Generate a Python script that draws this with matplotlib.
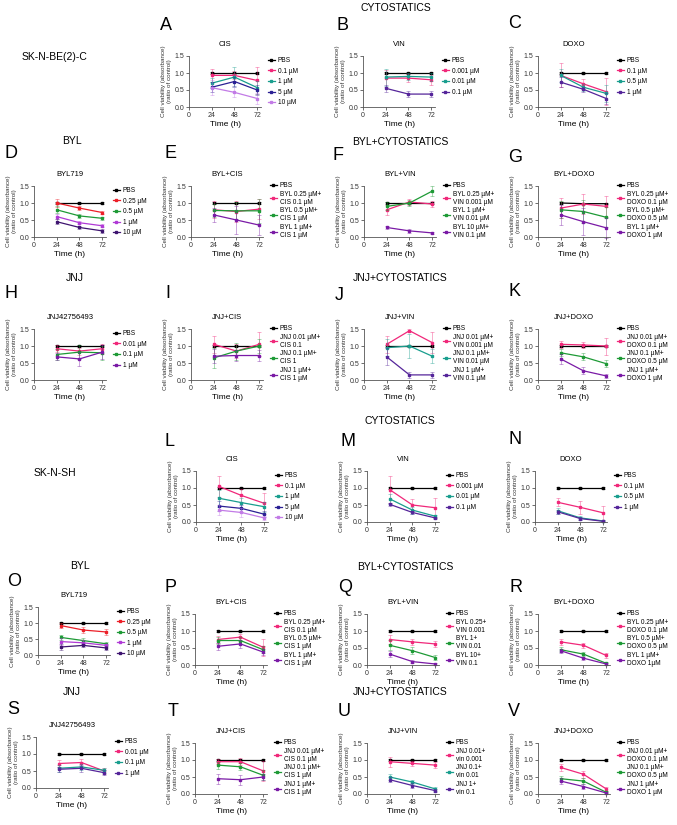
import matplotlib
matplotlib.use("Agg")
import matplotlib.pyplot as plt

plt.rcParams['font.family'] = ['Liberation Sans', 'DejaVu Sans']

time_h = [24, 48, 72]
ylabel = "Cell viability (absorbance)\n(ratio of control)"

# ---------- SK-N-BE(2)-C ----------
A_labels = ["PBS", "0.1 µM", "1 µM", "5 µM", "10 µM"]
A_vals = [[1, 1, 1], [0.93, 0.93, 0.78], [0.70, 0.88, 0.57], [0.58, 0.75, 0.50], [0.57, 0.43, 0.25]]
A_err = [[0.02, 0.02, 0.02], [0.18, 0.12, 0.40], [0.15, 0.30, 0.20], [0.15, 0.12, 0.15], [0.22, 0.15, 0.15]]

B_labels = ["PBS", "0.001 µM", "0.01 µM", "0.1 µM"]
B_vals = [[1, 1, 1], [0.85, 0.85, 0.80], [0.88, 0.90, 0.88], [0.55, 0.38, 0.38]]
B_err = [[0.02, 0.02, 0.02], [0.25, 0.12, 0.15], [0.25, 0.10, 0.12], [0.10, 0.10, 0.10]]

C_labels = ["PBS", "0.1 µM", "0.5 µM", "1 µM"]
C_vals = [[1, 1, 1], [0.93, 0.68, 0.45], [0.93, 0.58, 0.40], [0.73, 0.52, 0.25]]
C_err = [[0.02, 0.02, 0.02], [0.35, 0.15, 0.40], [0.20, 0.10, 0.25], [0.15, 0.08, 0.15]]

D_labels = ["PBS", "0.25 µM", "0.5 µM", "1 µM", "10 µM"]
D_vals = [[1, 1, 1], [1.0, 0.85, 0.72], [0.80, 0.62, 0.55], [0.60, 0.42, 0.33], [0.45, 0.28, 0.18]]
D_err = [[0.02, 0.02, 0.02], [0.12, 0.05, 0.05], [0.10, 0.05, 0.05], [0.08, 0.05, 0.05], [0.08, 0.05, 0.05]]

E_labels = ["PBS", "BYL 0.25 µM+\nCIS 0.1 µM", "BYL 0.5 µM+\nCIS 1 µM", "BYL 1 µM+\nCIS 1 µM"]
E_vals = [[1, 1, 1], [0.80, 0.75, 0.82], [0.78, 0.77, 0.77], [0.65, 0.50, 0.35]]
E_err = [[0.02, 0.02, 0.02], [0.25, 0.30, 0.30], [0.20, 0.25, 0.35], [0.20, 0.40, 0.30]]

F_labels = ["PBS", "BYL 0.25 µM+\nVIN 0.001 µM", "BYL 1 µM+\nVIN 0.01 µM", "BYL 10 µM+\nVIN 0.1 µM"]
F_vals = [[1, 1, 1], [0.80, 1.03, 0.97], [0.90, 1.00, 1.35], [0.28, 0.18, 0.12]]
F_err = [[0.02, 0.02, 0.02], [0.15, 0.10, 0.10], [0.12, 0.10, 0.15], [0.05, 0.05, 0.04]]

G_labels = ["PBS", "BYL 0.25 µM+\nDOXO 0.1 µM", "BYL 0.5 µM+\nDOXO 0.5 µM", "BYL 1 µM+\nDOXO 1 µM"]
G_vals = [[1, 0.98, 0.98], [0.85, 0.97, 0.90], [0.80, 0.75, 0.58], [0.65, 0.45, 0.27]]
G_err = [[0.02, 0.02, 0.02], [0.30, 0.30, 0.30], [0.25, 0.35, 0.30], [0.30, 0.40, 0.30]]

H_labels = ["PBS", "0.01 µM", "0.1 µM", "1 µM"]
H_vals = [[1, 1, 1], [0.92, 0.85, 0.92], [0.75, 0.82, 0.80], [0.68, 0.62, 0.82]]
H_err = [[0.02, 0.02, 0.02], [0.10, 0.10, 0.15], [0.15, 0.20, 0.20], [0.10, 0.20, 0.20]]

I_labels = ["PBS", "JNJ 0.01 µM+\nCIS 0.1", "JNJ 0.1 µM+\nCIS 1", "JNJ 1 µM+\nCIS 1 µM"]
I_vals = [[1, 1, 1], [1.05, 0.85, 1.05], [0.65, 0.85, 1.0], [0.70, 0.72, 0.72]]
I_err = [[0.02, 0.02, 0.02], [0.25, 0.20, 0.35], [0.30, 0.25, 0.20], [0.20, 0.15, 0.15]]

J_labels = ["PBS", "JNJ 0.01 µM+\nVIN 0.001 µM", "JNJ 0.1 µM+\nVIN 0.01 µM", "JNJ 1 µM+\nVIN 0.1 µM"]
J_vals = [[1, 1, 1], [1.05, 1.45, 1.10], [0.95, 1.00, 0.70], [0.68, 0.15, 0.15]]
J_err = [[0.02, 0.02, 0.02], [0.25, 0.05, 0.30], [0.25, 0.35, 0.20], [0.25, 0.10, 0.10]]

K_labels = ["PBS", "JNJ 0.01 µM+\nDOXO 0.1 µM", "JNJ 0.1 µM+\nDOXO 0.5 µM", "JNJ 1 µM+\nDOXO 1 µM"]
K_vals = [[1, 1, 1], [1.05, 1.03, 1.0], [0.80, 0.68, 0.48], [0.62, 0.27, 0.12]]
K_err = [[0.02, 0.02, 0.02], [0.10, 0.10, 0.25], [0.10, 0.10, 0.10], [0.15, 0.10, 0.05]]

# ---------- SK-N-SH ----------
L_labels = ["PBS", "0.1 µM", "1 µM", "5 µM", "10 µM"]
L_vals = [[1, 1, 1], [1.05, 0.78, 0.55], [0.70, 0.57, 0.45], [0.47, 0.40, 0.23], [0.35, 0.28, 0.12]]
L_err = [[0.02, 0.02, 0.02], [0.30, 0.20, 0.30], [0.25, 0.15, 0.15], [0.15, 0.10, 0.08], [0.15, 0.12, 0.06]]

M_labels = ["PBS", "0.001 µM", "0.01 µM", "0.1 µM"]
M_vals = [[1, 1, 1], [0.95, 0.50, 0.42], [0.68, 0.35, 0.17], [0.52, 0.28, 0.12]]
M_err = [[0.02, 0.02, 0.02], [0.40, 0.18, 0.30], [0.15, 0.10, 0.05], [0.05, 0.05, 0.04]]

N_labels = ["PBS", "0.1 µM", "0.5 µM", "1 µM"]
N_vals = [[1, 1, 1], [0.58, 0.43, 0.27], [0.33, 0.12, 0.03], [0.30, 0.10, 0.02]]
N_err = [[0.02, 0.02, 0.02], [0.12, 0.20, 0.20], [0.08, 0.05, 0.02], [0.06, 0.04, 0.02]]

O_labels = ["PBS", "0.25 µM", "0.5 µM", "1 µM", "10 µM"]
O_vals = [[1, 1, 1], [0.92, 0.78, 0.72], [0.55, 0.45, 0.35], [0.42, 0.38, 0.30], [0.25, 0.30, 0.22]]
O_err = [[0.02, 0.02, 0.02], [0.08, 0.08, 0.08], [0.08, 0.08, 0.05], [0.10, 0.08, 0.05], [0.08, 0.05, 0.05]]

P_labels = ["PBS", "BYL 0.25 µM+\nCIS 0.1 µM", "BYL 0.5 µM+\nCIS 1 µM", "BYL 1 µM+\nCIS 1 µM"]
P_vals = [[1, 1, 1], [0.75, 0.82, 0.52], [0.72, 0.72, 0.45], [0.55, 0.62, 0.38]]
P_err = [[0.02, 0.02, 0.02], [0.10, 0.10, 0.25], [0.10, 0.10, 0.10], [0.10, 0.12, 0.10]]

Q_labels = ["PBS", "BYL 0.25+\nVIN 0.001", "BYL 1+\nVIN 0.01", "BYL 10+\nVIN 0.1"]
Q_vals = [[1, 1, 1], [0.75, 0.68, 0.62], [0.58, 0.42, 0.22], [0.32, 0.10, 0.03]]
Q_err = [[0.02, 0.02, 0.02], [0.12, 0.08, 0.08], [0.15, 0.10, 0.08], [0.08, 0.05, 0.02]]

R_labels = ["PBS", "BYL 0.25 µM+\nDOXO 0.1 µM", "BYL 0.5 µM+\nDOXO 0.5 µM", "BYL 1 µM+\nDOXO 1µM"]
R_vals = [[1, 1, 1], [0.68, 0.58, 0.28], [0.45, 0.32, 0.05], [0.42, 0.20, 0.03]]
R_err = [[0.02, 0.02, 0.02], [0.08, 0.08, 0.08], [0.08, 0.06, 0.04], [0.06, 0.05, 0.03]]

S_labels = ["PBS", "0.01 µM", "0.1 µM", "1 µM"]
S_vals = [[1, 1, 1], [0.72, 0.75, 0.50], [0.58, 0.62, 0.52], [0.55, 0.58, 0.45]]
S_err = [[0.02, 0.02, 0.02], [0.10, 0.10, 0.08], [0.10, 0.10, 0.08], [0.08, 0.10, 0.08]]

T_labels = ["PBS", "JNJ 0.01 µM+\nCIS 0.1 µM", "JNJ 0.1 µM+\nCIS 1 µM", "JNJ 1 µM+\nCIS 1 µM"]
T_vals = [[1, 1, 1], [0.95, 0.95, 0.68], [0.85, 0.80, 0.55], [0.45, 0.42, 0.50]]
T_err = [[0.02, 0.02, 0.02], [0.08, 0.10, 0.30], [0.10, 0.10, 0.15], [0.15, 0.15, 0.10]]

U_labels = ["PBS", "JNJ 0.01+\nvin 0.001", "JNJ 0.1+\nvin 0.01", "JNJ 1+\nvin 0.1"]
U_vals = [[1, 1, 1], [0.95, 0.90, 0.85], [0.50, 0.35, 0.15], [0.42, 0.25, 0.10]]
U_err = [[0.02, 0.02, 0.02], [0.15, 0.08, 0.08], [0.08, 0.06, 0.05], [0.08, 0.06, 0.04]]

V_labels = ["PBS", "JNJ 0.01 µM+\nDOXO 0.1 µM", "JNJ 0.1 µM+\nDOXO 0.5 µM", "JNJ 1 µM+\nDOXO 1 µM"]
V_vals = [[1, 1, 1], [0.78, 0.58, 0.15], [0.45, 0.38, 0.05], [0.38, 0.22, 0.03]]
V_err = [[0.02, 0.02, 0.02], [0.10, 0.10, 0.05], [0.08, 0.08, 0.03], [0.08, 0.06, 0.03]]

# colour sets
cis_cols = ['black', '#f0287a', '#199e8e', '#2b2094', '#c27be6']
cyto_cols = ['black', '#f0287a', '#199e8e', '#55259a']
byl_cols = ['black', '#ec1f28', '#1e9a36', '#b03ad6', '#3e1470']
combo_cols = ['black', '#f0287a', '#1e9a36', '#7a1aa6']

W, H = 677, 825
fig = plt.figure(figsize=(W / 100, H / 100), dpi=100)


def px(x, y):
    return x / W, 1 - y / H


# letter, title, labels, values, errors, colours, axes box (x0, y_top, y_bottom) in px, letter pos
panels = [
    ("A", "CIS", A_labels, A_vals, A_err, cis_cols, (189, 56, 107), (160, 25)),
    ("B", "VIN", B_labels, B_vals, B_err, cyto_cols, (363, 56, 107), (336, 25)),
    ("C", "DOXO", C_labels, C_vals, C_err, cyto_cols, (538, 56, 107), (508, 24)),
    ("D", "BYL719", D_labels, D_vals, D_err, byl_cols, (34, 186, 237), (5, 153)),
    ("E", "BYL+CIS", E_labels, E_vals, E_err, combo_cols, (191, 186, 237), (165, 153)),
    ("F", "BYL+VIN", F_labels, F_vals, F_err, combo_cols, (364, 186, 237), (333, 155)),
    ("G", "BYL+DOXO", G_labels, G_vals, G_err, combo_cols, (538, 186, 237), (508, 158)),
    ("H", "JNJ42756493", H_labels, H_vals, H_err, combo_cols, (34, 329, 380), (5, 293)),
    ("I", "JNJ+CIS", I_labels, I_vals, I_err, combo_cols, (191, 329, 380), (165, 293)),
    ("J", "JNJ+VIN", J_labels, J_vals, J_err, cyto_cols, (364, 329, 380), (335, 295)),
    ("K", "JNJ+DOXO", K_labels, K_vals, K_err, combo_cols, (538, 329, 380), (508, 292)),
    ("L", "CIS", L_labels, L_vals, L_err, cis_cols, (196, 471, 522), (165, 442)),
    ("M", "VIN", M_labels, M_vals, M_err, cyto_cols, (367, 471, 522), (340, 442)),
    ("N", "DOXO", N_labels, N_vals, N_err, cyto_cols, (535, 471, 522), (508, 440)),
    ("O", "BYL719", O_labels, O_vals, O_err, byl_cols, (38, 607, 655), (7, 581)),
    ("P", "BYL+CIS", P_labels, P_vals, P_err, combo_cols, (195, 614, 665), (165, 587)),
    ("Q", "BYL+VIN", Q_labels, Q_vals, Q_err, combo_cols, (367, 614, 665), (338, 587)),
    ("R", "BYL+DOXO", R_labels, R_vals, R_err, combo_cols, (538, 614, 665), (510, 587)),
    ("S", "JNJ42756493", S_labels, S_vals, S_err, cyto_cols, (36, 737, 788), (7, 710)),
    ("T", "JNJ+CIS", T_labels, T_vals, T_err, combo_cols, (195, 743, 794), (168, 712)),
    ("U", "JNJ+VIN", U_labels, U_vals, U_err, cyto_cols, (367, 743, 794), (338, 712)),
    ("V", "JNJ+DOXO", V_labels, V_vals, V_err, combo_cols, (538, 743, 794), (508, 712)),
]

for letter, title, labels, vals, errs, cols, (x0, yt, yb), (lx, ly) in panels:
    ax = fig.add_axes([x0 / W, 1 - yb / H, 72 / W, (yb - yt) / H])
    for lab, v, e, c in zip(labels, vals, errs, cols):
        ax.errorbar(time_h, v, yerr=e, fmt='none', ecolor=c, alpha=0.55,
                    elinewidth=0.5, capsize=1.2, capthick=0.5, clip_on=False)
        ax.plot(time_h, v, color=c, lw=0.9, marker='s', ms=1.8,
                label=lab, clip_on=False)
    ax.set_xlim(0, 76)
    ax.set_ylim(0, 1.5)
    ax.set_xticks([0, 24, 48, 72])
    ax.set_yticks([0, 0.5, 1.0, 1.5])
    ax.set_yticklabels(["0.0", "0.5", "1.0", "1.5"])
    for s in ('top', 'right'):
        ax.spines[s].set_visible(False)
    for s in ('left', 'bottom'):
        ax.spines[s].set_linewidth(0.6)
        ax.spines[s].set_color('#555555')
    ax.tick_params(labelsize=5, length=2, width=0.5, pad=1.5, colors='#333333')
    ax.set_xlabel("Time (h)", fontsize=6, labelpad=1.5)
    ax.set_ylabel(ylabel, fontsize=4.5, labelpad=2, linespacing=1.1, color='#333333')
    ax.set_title(title, fontsize=5.5, pad=7)
    multi = any("\n" in l for l in labels)
    ax.legend(loc='upper left', bbox_to_anchor=(1.1, 1.08 if multi else 0.98),
              frameon=False, fontsize=4.7, handlelength=1.0, handletextpad=0.5,
              labelspacing=0.25 if multi else 0.55, borderaxespad=0, borderpad=0)
    fig.text(*px(lx, ly), letter, fontsize=13, va='center', ha='left')

# section headers
headers = [
    ("CYTOSTATICS", 396, 8), ("SK-N-BE(2)-C", 55, 57),
    ("BYL", 72, 141), ("BYL+CYTOSTATICS", 400, 142),
    ("JNJ", 75, 278), ("JNJ+CYTOSTATICS", 400, 278),
    ("CYTOSTATICS", 400, 421), ("SK-N-SH", 55, 473),
    ("BYL", 80, 566), ("BYL+CYTOSTATICS", 405, 567),
    ("JNJ", 72, 692), ("JNJ+CYTOSTATICS", 400, 692),
]
for txt, hx, hy in headers:
    fig.text(*px(hx, hy), txt, fontsize=7.5, ha='center', va='center')

fig.savefig("out.png", dpi=100)
